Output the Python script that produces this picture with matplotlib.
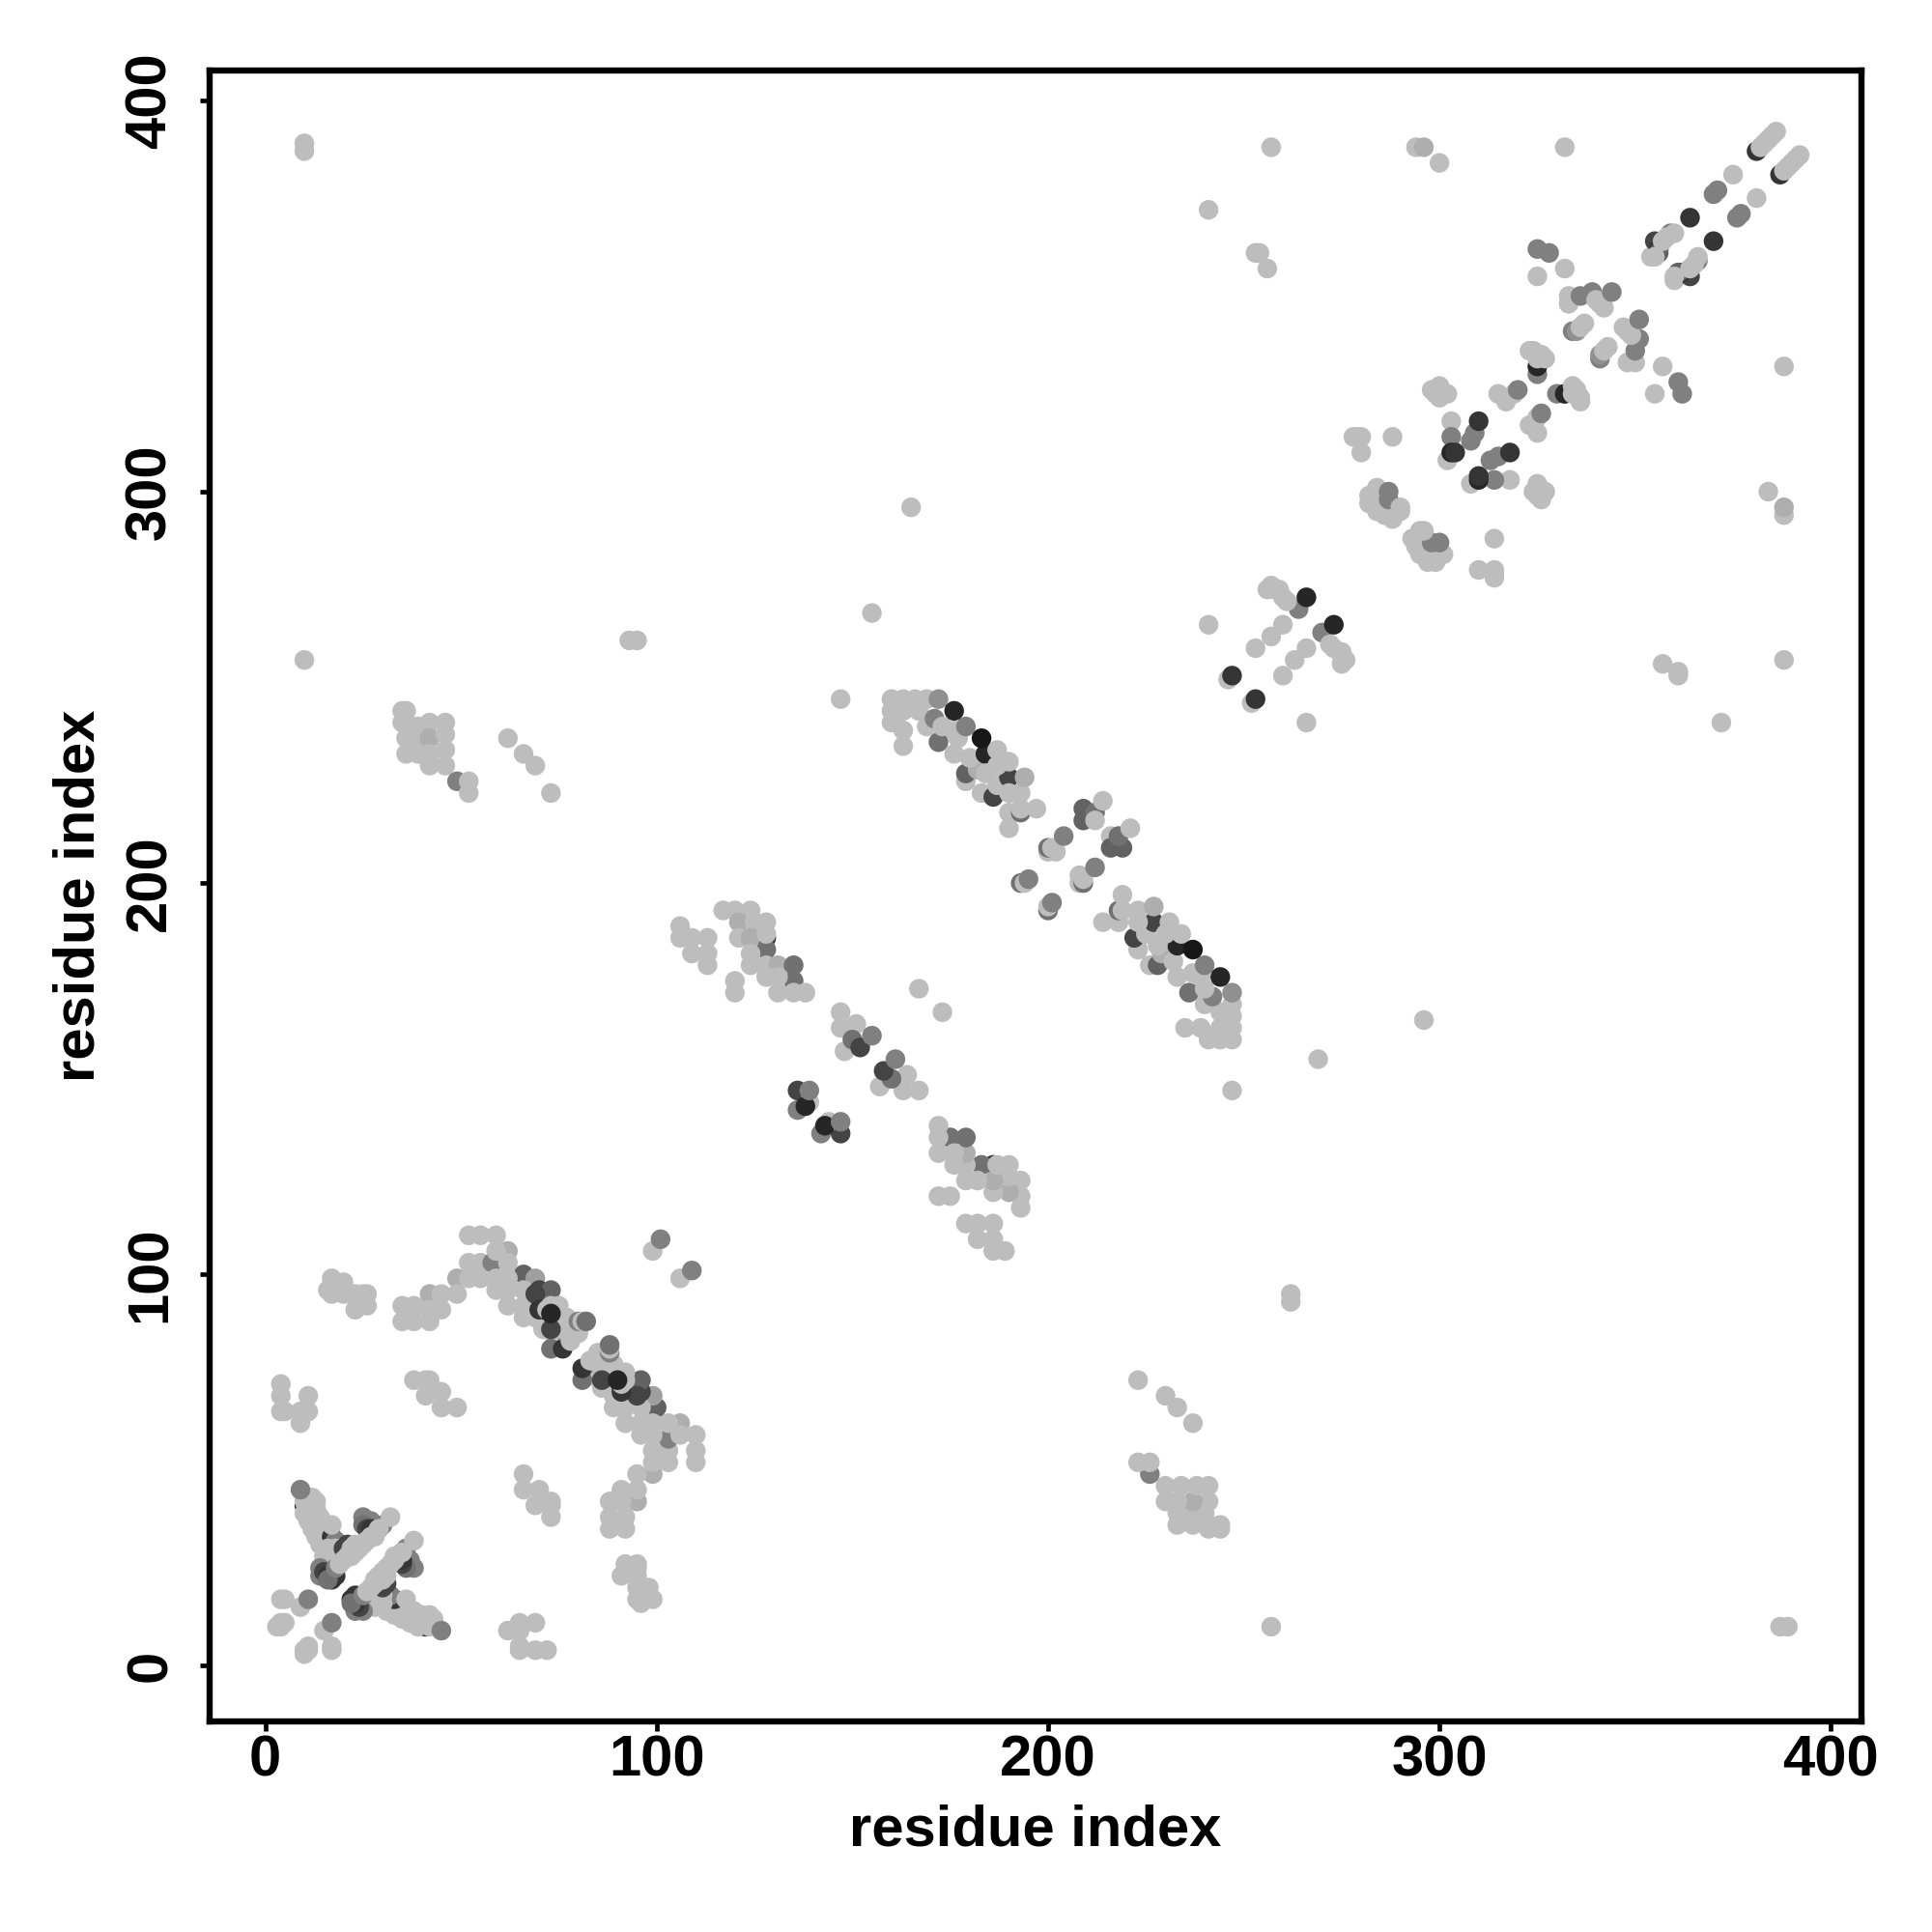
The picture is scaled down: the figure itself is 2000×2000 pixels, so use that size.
import matplotlib
matplotlib.use("Agg")
import matplotlib.pyplot as plt
from matplotlib.colors import LinearSegmentedColormap

# Contacts (residue i, residue j, strength level 0-10); the map is symmetric, only j > i is listed
corner_contacts = [(3,10,0),(4,10,0),(4,11,0),(5,11,0),(4,17,0),(5,17,0),(9,15,0),(11,17,4)]
hairpin_arm = [(10,41,10),(10,42,0),(11,43,0),(12,43,0),(13,42,0),(10,39,0),(11,40,0),(13,40,0),(11,37,0),
    (12,35,0),(14,38,0),(13,33,0),(14,36,0),(14,31,0),(15,34,0),(17,33,9),(18,32,4),(17,36,0),(16,30,0),
    (15,28,0),(16,27,0),(17,29,0),(18,30,0),(19,28,0),(14,23,4),(14,25,4),(15,24,8),(16,23,9),(17,22,9),
    (18,23,9),(16,22,5),(18,25,4),(20,30,8),(21,31,8),(19,26,0),(21,28,0),(22,30,0),(23,31,0),(9,45,4)]
hairpin_strip = [(25,38,4),(26,37,4),(27,37,4),(25,36,5),(26,35,8),(27,35,9),(28,34,8),(29,35,4),(30,36,4),
    (20,27,0),(22,28,0),(23,29,0),(24,30,0),(25,31,0),(26,32,0),(27,33,0),(28,33,0),(29,35,0),(32,38,0)]
small_groups = [(4,72,0),(4,69,0),(4,65,0),(5,65,0),(11,69,0),(9,65,0),(11,65,0),(9,62,0),
    (17,99,0),(16,96,0),(17,95,0),(20,98,0),(20,95,0),(23,95,0),(25,95,0),(26,95,0),(23,91,0),(26,92,0),
    (38,73,0),(41,73,0),(42,73,0),(41,69,0),(45,70,0),(45,66,0),(49,66,0),(99,106,0),(101,109,4)]
long_arc = [(35,92,0),(35,88,0),(38,92,0),(38,88,0),(42,95,1),(42,91,0),(42,88,0),(45,95,0),(45,91,0),
    (49,99,1),(49,95,0),(52,103,0),(55,103,0),(52,99,0),(55,99,0),(52,110,0),(55,110,0),(59,110,0),
    (58,103,4),(62,106,1),(62,103,0),(59,106,0),(59,99,0),(59,96,0),(62,92,0),(66,100,6),(69,99,2),
    (62,99,0),(62,96,0),(66,96,0),(66,92,0),(69,92,0),(66,89,0),(69,89,0),(70,96,8),(73,96,6),(73,93,6),(69,95,8),
    (70,91,9),(72,91,0),(73,92,0),(75,92,0),(73,88,9),(71,86,0),(75,88,0),(77,89,0),(74,84,0),(76,84,0),
    (73,81,5),(76,81,9),(77,85,4),(76,86,0),(78,85,0),(78,83,0),(80,85,0),(80,88,4),(81,88,0),(82,88,5)]
long_arc_upper = [(86,73,8),(90,73,10)]
far_contacts = [(10,387,0),(10,389,0),(10,257,0),(257,388,0),(241,372,0),(294,388,0),(296,388,1),(300,384,0),
    (332,388,0),(253,361,0),(254,361,0),(256,357,0),(165,296,0),(155,269,0),(147,247,0),(93,262,0),(95,262,0)]
block_36_244 = [(36,244,0),(36,241,0),(39,240,0),(42,241,0),(46,241,0),(36,237,0),(39,237,0),(42,237,1),
    (46,238,0),(36,233,0),(39,233,0),(42,233,0),(42,230,0),(46,234,0),(46,230,0),(35,244,0),(35,241,0),
    (49,226,4),(52,226,0),(52,223,0),(73,223,0),(62,237,0),(66,233,0),(69,230,0)]
block_106_193 = [(106,189,0),(106,186,0),(109,186,0),(113,186,0),(109,182,0),(113,182,0),(113,179,0),
    (117,193,0),(120,193,0),(124,193,0),(121,190,1),(125,190,0),(128,186,9),(128,183,5),(128,190,0),(121,186,0),
    (124,186,1),(128,187,0),(124,182,0),(124,179,0),(128,179,0),(131,179,1),(135,179,5),(135,175,5),
    (128,176,0),(131,176,0),(131,172,0),(135,172,0),(138,172,0),(120,175,0),(120,172,0)]
short_pairs = [(147,167,0),(147,163,0),(151,164,0),(148,157,0),(150,160,5),(152,158,8),(155,161,4),
    (136,142,4),(136,147,8),(139,144,0),(138,143,10),(139,147,4),(173,167,0)]
band_160_197 = [(160,247,0),(163,247,0),(166,247,0),(169,247,0),(160,244,0),(160,241,0),(163,239,0),(163,235,0),
    (163,244,0),(167,244,0),(169,240,0),(171,242,4),(172,236,5),(172,247,3),(176,233,0),(173,240,0),(176,239,0),
    (179,226,0),(179,228,6),(177,237,0),(182,229,1),(183,223,0),(180,232,0),(186,222,8),(184,233,10),(184,228,0),
    (187,225,0),(190,227,8),(190,218,0),(190,214,0),(193,218,5),(187,230,0),(190,223,0),(193,223,0),(193,219,0),
    (197,219,0),(194,227,1),(190,231,0),(187,234,0),(179,240,4),(176,244,10),(183,237,11)]
centre_pairs = [(193,200,5),(194,200,0),(195,201,4),(200,208,0),(202,208,0),(200,209,5),(201,209,0),(204,212,4),
    (209,216,6),(209,219,6),(212,218,5),(214,221,0),(216,212,0)]
pairs_246_276 = [(246,252,0),(247,253,9),(253,260,0),(257,263,0),(260,266,0),(264,270,4),(266,273,10),
    (256,275,0),(257,276,0),(258,275,0),(259,275,0),(260,273,0),(261,272,0),(241,266,0)]
cluster_280_330 = [(278,314,0),(279,314,0),(280,310,0),(280,314,0),(288,314,0),(282,299,0),(282,297,0),(284,295,0),
    (286,294,0),(288,293,0),(284,301,0),(285,300,0),(287,300,4),(287,298,4),(290,295,0),(290,296,0),
    (298,326,0),(300,327,0),(302,325,0),(300,324,0),(299,325,0)]
cluster_302_318 = [(302,308,0),(303,318,0),(303,314,4),(303,310,10),(304,310,9),(308,313,4),(309,315,4),(310,318,9),
    (315,325,0),(317,323,0),(319,325,0),(320,326,4)]
cluster_323_351 = [(325,330,4),(325,332,10),(323,336,0),(324,336,0),(326,335,0),(327,334,0),(325,334,0),
    (334,341,4),(335,341,3),(336,342,0),(337,343,0),(333,350,0),(333,348,0),(336,350,4),(339,351,4),(341,348,0),
    (342,347,0),(340,349,0),(344,351,4),(325,355,0),(332,357,0),(328,361,4),(325,362,4)]
cluster_354_392 = [(354,360,0),(355,364,8),(356,362,9),(356,361,6),(357,364,0),(355,360,0),(359,366,4),(360,366,0),
    (358,365,0),(364,370,9),(370,376,4),(371,377,4),(375,381,0),(381,387,9),(382,388,0),(383,389,0),
    (384,390,0),(385,391,0),(386,392,0)]

groups = [corner_contacts, hairpin_arm, hairpin_strip, small_groups, long_arc, long_arc_upper, far_contacts,
          block_36_244, block_106_193, short_pairs, band_160_197, centre_pairs, pairs_246_276,
          cluster_280_330, cluster_302_318, cluster_323_351, cluster_354_392]
x_ticks = [0, 100, 200, 300, 400]
y_ticks = [0, 100, 200, 300, 400]
axis_label = "residue index"

plt.rcParams['font.family'] = ['Liberation Sans', 'DejaVu Sans']
cmap = LinearSegmentedColormap.from_list("contact", [(0.74, 0.74, 0.74), (0.09, 0.09, 0.09)])

fig = plt.figure(figsize=(20, 20), dpi=100)
L, R, T, B = 217, 1927, 73, 1782
ax = fig.add_axes([L / 2000, 1 - B / 2000, (R - L) / 2000, (B - T) / 2000])

for group in groups:
    rows = list(group) + [(j, i, v) for i, j, v in group]
    xs = [r[0] for r in rows]
    ys = [r[1] for r in rows]
    vs = [r[2] for r in rows]
    ax.scatter(xs, ys, c=vs, cmap=cmap, vmin=0, vmax=11, s=215, linewidths=0, zorder=2)

ax.set_xlim(-14.2, 407.8)
ax.set_ylim(-14.2, 407.6)
ax.set_xticks(x_ticks)
ax.set_yticks(y_ticks)
ax.tick_params(axis='both', length=7, width=3.4, labelsize=43, direction='out')
for lab in ax.get_xticklabels():
    lab.set_fontweight('bold')
for lab in ax.get_yticklabels():
    lab.set_fontweight('bold')
    lab.set_rotation(90)
    lab.set_va('center')
for side in ax.spines.values():
    side.set_linewidth(4.6)
ax.tick_params(axis='x', pad=3)
ax.tick_params(axis='y', pad=17)
ax.set_xlabel(axis_label, fontsize=43, fontweight='bold', labelpad=12)
ax.set_ylabel(axis_label, fontsize=43, fontweight='bold', labelpad=14)

fig.savefig("out.png", dpi=100, facecolor='white')
